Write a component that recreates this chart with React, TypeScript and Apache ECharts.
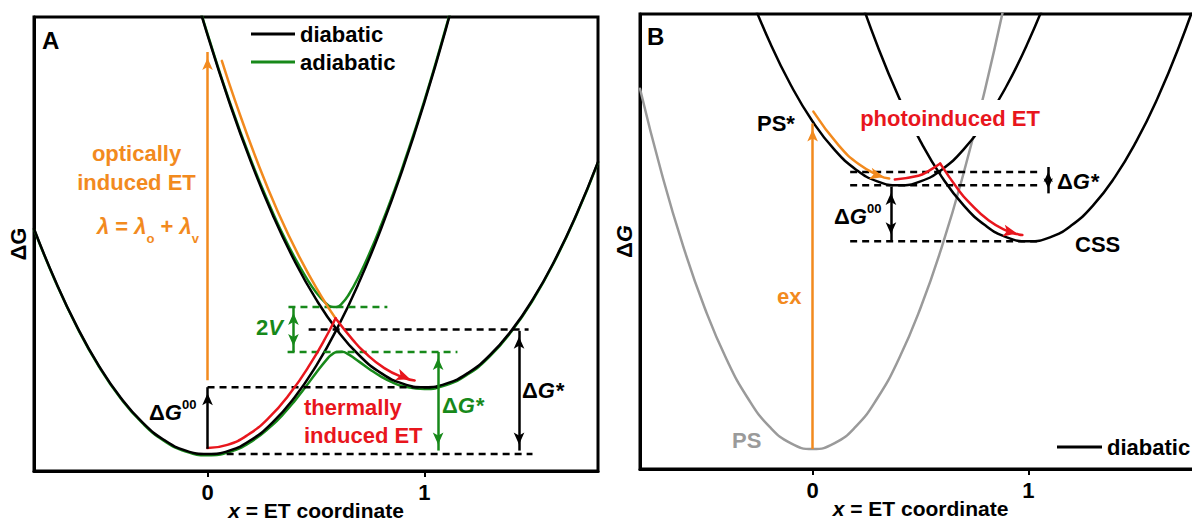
import React, { useEffect, useRef } from "react";
import * as echarts from "echarts";

type Pt = [number, number];

// ---------- shared axis ticks
const xTicks = [0, 1];
const xTickLabels = ["0", "1"];

// ---------- Panel A (energy in units of lambda, reactant minimum = 0)
const reactantA: Pt[] = [
  [-0.8, 0.64], [-0.7, 0.49], [-0.6, 0.36], [-0.5, 0.25], [-0.4, 0.16], [-0.3, 0.09],
  [-0.2, 0.04], [-0.1, 0.01], [0, 0], [0.1, 0.01], [0.2, 0.04], [0.3, 0.09], [0.4, 0.16],
  [0.5, 0.25], [0.6, 0.36], [0.7, 0.49], [0.8, 0.64], [0.9, 0.81], [1.0, 1.0], [1.1, 1.21], [1.2, 1.44],
];
const productA: Pt[] = [
  [-0.1, 1.4], [0, 1.19], [0.1, 1.0], [0.2, 0.83], [0.3, 0.68], [0.4, 0.55], [0.5, 0.44],
  [0.6, 0.35], [0.7, 0.28], [0.8, 0.23], [0.9, 0.2], [1.0, 0.19], [1.1, 0.2], [1.2, 0.23],
  [1.3, 0.28], [1.4, 0.35], [1.5, 0.44], [1.6, 0.55], [1.7, 0.68], [1.8, 0.83],
];
const adiabaticLowerA: Pt[] = [
  [-0.8, 0.6385], [-0.7, 0.4884], [-0.6, 0.3583], [-0.5, 0.2481], [-0.4, 0.1579], [-0.3, 0.0877],
  [-0.2, 0.0374], [-0.1, 0.0071], [0, -0.0034], [0.1, 0.0059], [0.2, 0.0348], [0.3, 0.0831],
  [0.35, 0.1143], [0.4, 0.1498], [0.45, 0.189], [0.5, 0.2304], [0.55, 0.2692], [0.57, 0.2812],
  [0.595, 0.29], [0.62, 0.2907], [0.65, 0.2831], [0.7, 0.262], [0.75, 0.2398], [0.8, 0.2202],
  [0.85, 0.2046], [0.9, 0.1933], [1.0, 0.185], [1.1, 0.196], [1.2, 0.2266], [1.3, 0.2771],
  [1.4, 0.3475], [1.5, 0.4377], [1.6, 0.548], [1.7, 0.6781], [1.8, 0.8283],
];
const adiabaticUpperA: Pt[] = [
  [-0.05, 1.296], [0, 1.1934], [0.1, 1.0041], [0.2, 0.8352], [0.3, 0.6869], [0.35, 0.6207],
  [0.4, 0.5602], [0.45, 0.506], [0.5, 0.4596], [0.55, 0.4258], [0.57, 0.4186], [0.595, 0.418],
  [0.62, 0.4281], [0.65, 0.4519], [0.7, 0.508], [0.75, 0.5752], [0.8, 0.6498], [0.85, 0.7304],
  [0.9, 0.8167], [1.0, 1.005], [1.1, 1.214], [1.15, 1.3262],
];
const opticalPathA: Pt[] = [
  [0.066, 1.117], [0.126, 1.0055], [0.226, 0.836], [0.325, 0.687], [0.425, 0.558], [0.524, 0.449], [0.59, 0.386],
];
const thermalRiseA: Pt[] = [
  [0, 0.017], [0.0915, 0.0262], [0.185, 0.0543], [0.281, 0.1022], [0.378, 0.1704],
  [0.4765, 0.2589], [0.556, 0.344], [0.59, 0.386],
];
const thermalFallA: Pt[] = [
  [0.59, 0.386], [0.6707, 0.3238], [0.719, 0.292], [0.815, 0.2443], [0.9085, 0.2162], [0.955, 0.2093],
];
const guidesBlackA: Pt[][] = [
  [[0.088, 0], [1.498, 0]],
  [[0, 0.19], [1.065, 0.19]],
  [[0.466, 0.354], [1.48, 0.354]],
];
const guidesGreenA: Pt[][] = [
  [[0.373, 0.418], [0.829, 0.418]],
  [[0.369, 0.29], [1.152, 0.29]],
];
const opticalArrowA: Pt[] = [[0, 0.21], [0, 1.142]];
const dG00ArrowA: Pt[] = [[0, 0.015], [0, 0.19]];
const twoVArrowA: Pt[] = [[0.396, 0.29], [0.396, 0.418]];
const dGstarGreenArrowA: Pt[] = [[1.063, 0.29], [1.063, 0.01]];
const dGstarBlackArrowA: Pt[] = [[1.436, 0.35], [1.436, 0.01]];
const thermalHeadA: Pt[] = [[0.85, 0.232], [0.965, 0.206]];

// ---------- Panel B (PS minimum = 0)
const groundPSB: Pt[] = [
  [-0.8, 0.902], [-0.7, 0.691], [-0.6, 0.508], [-0.5, 0.353], [-0.4, 0.226], [-0.3, 0.127],
  [-0.2, 0.056], [-0.1, 0.014], [0, 0], [0.1, 0.014], [0.2, 0.056], [0.3, 0.127], [0.4, 0.226],
  [0.5, 0.353], [0.6, 0.508], [0.7, 0.691], [0.8, 0.902], [0.9, 1.142],
];
const excitedPSB: Pt[] = [
  [-0.3, 1.15], [-0.2, 1.02], [-0.1, 0.91], [0, 0.82], [0.1, 0.75], [0.2, 0.7], [0.3, 0.67],
  [0.4, 0.66], [0.5, 0.67], [0.6, 0.7], [0.7, 0.75], [0.8, 0.82], [0.9, 0.91], [1.0, 1.02], [1.1, 1.15],
];
const cssB: Pt[] = [
  [0.2, 1.16], [0.3, 1.01], [0.4, 0.88], [0.5, 0.77], [0.6, 0.68], [0.7, 0.61], [0.8, 0.56],
  [0.9, 0.53], [1.0, 0.52], [1.1, 0.53], [1.2, 0.56], [1.3, 0.61], [1.4, 0.68], [1.5, 0.77],
  [1.6, 0.88], [1.7, 1.01], [1.8, 1.16],
];
const relaxPathB: Pt[] = [
  [0.0035, 0.8445], [0.1208, 0.76], [0.2167, 0.712], [0.3097, 0.684], [0.355, 0.6772],
];
const etRiseB: Pt[] = [[0.381, 0.675], [0.4903, 0.684], [0.5364, 0.6956], [0.5914, 0.7146]];
const etFallB: Pt[] = [
  [0.5914, 0.7146], [0.6721, 0.6516], [0.7208, 0.62], [0.8167, 0.572], [0.9097, 0.544], [0.955, 0.5372], [0.972, 0.5357],
];
const guidesB: Pt[][] = [
  [[0.174, 0.6936], [1.055, 0.6936]],
  [[0.174, 0.66], [1.055, 0.66]],
  [[0.174, 0.52], [1.055, 0.52]],
];
const exArrowB: Pt[] = [[0, 0], [0, 0.815]];
const dGstarArrowB: Pt[] = [[1.092, 0.706], [1.092, 0.64]];
const dG00ArrowB: Pt[] = [[0.363, 0.656], [0.363, 0.5225]];
const relaxHeadB: Pt[] = [[0.3097, 0.684], [0.362, 0.677]];
const etHeadB: Pt[] = [[0.9097, 0.544], [0.98, 0.5357]];

// ---------- styles
const FONT = "'Liberation Sans', Arial, Helvetica, sans-serif";
const BLACK = "#000000";
const GREEN = "#17891a";
const ORANGE = "#f28a1e";
const RED = "#e8161d";
const GREY = "#9a9a9a";

const base = { fontFamily: FONT, fontWeight: "bold" as const, fontSize: 22 };

function curve(name: string, data: Pt[], color: string, width: number, g: number, smooth: number | boolean = 0.5) {
  return {
    type: "line",
    name,
    data,
    xAxisIndex: g,
    yAxisIndex: g,
    showSymbol: false,
    symbol: "none",
    smooth,
    color,
    lineStyle: { color, width, cap: "round", join: "round" },
    itemStyle: { color },
    silent: true,
    clip: true,
    emphasis: { disabled: true },
  };
}

function guide(data: Pt[], color: string, g: number) {
  return {
    type: "line",
    name: "guide",
    data,
    xAxisIndex: g,
    yAxisIndex: g,
    showSymbol: false,
    symbol: "none",
    smooth: false,
    color,
    lineStyle: { color, width: 2.5, type: [7, 5] },
    silent: true,
    emphasis: { disabled: true },
  };
}

function arrow(seg: Pt[], color: string, both: boolean, size: number[] = [8, 12], showLine = true) {
  const ls = { color, width: showLine ? 2.5 : 0, type: "solid" };
  return [
    { coord: seg[0], symbol: both ? "arrow" : "none", symbolSize: size, symbolOffset: [0, size[1] / 2], lineStyle: ls },
    { coord: seg[1], symbol: "arrow", symbolSize: size, symbolOffset: [0, size[1] / 2], lineStyle: ls },
  ];
}

function arrowSeries(items: any[], g: number) {
  return {
    type: "line",
    name: "arrows",
    data: [],
    xAxisIndex: g,
    yAxisIndex: g,
    silent: true,
    markLine: {
      silent: true,
      animation: false,
      symbol: ["none", "arrow"],
      symbolSize: [8, 12],
      symbolOffset: [[0, 6], [0, 6]],
      label: { show: false },
      emphasis: { disabled: true },
      data: items,
    },
  };
}

function richDG(fill: string) {
  return {
    d: { ...base, fill, fontStyle: "normal", lineHeight: 28 },
    g: { ...base, fill, fontStyle: "italic", lineHeight: 28 },
    n: { ...base, fill, fontStyle: "normal", lineHeight: 28 },
    s: { ...base, fill, fontSize: 13, verticalAlign: "top", lineHeight: 14 },
  };
}

function label(x: number, y: number, text: string, fill: string, align = "left", extra: any = {}) {
  return {
    type: "text",
    x,
    y,
    z: 100,
    silent: true,
    style: { ...base, text, fill, align, verticalAlign: "middle", ...extra },
  };
}

function xAxisOf(g: number) {
  return {
    gridIndex: g,
    type: "value",
    min: -0.8,
    max: 1.8,
    axisLine: { show: true, onZero: false, lineStyle: { color: BLACK, width: 3 } },
    axisTick: { show: true, customValues: xTicks, length: 6, inside: false, lineStyle: { color: BLACK, width: 2 } },
    axisLabel: {
      show: true,
      customValues: xTicks,
      margin: 10,
      color: BLACK,
      fontFamily: FONT,
      fontWeight: "bold",
      fontSize: 22,
      formatter: (v: number) => {
        const i = xTicks.indexOf(v);
        return i >= 0 ? xTickLabels[i] : "";
      },
    },
    splitLine: { show: false },
    name: "{i|x} = ET coordinate",
    nameLocation: "middle",
    nameGap: 29,
    nameMoveOverlap: false,
    nameTextStyle: {
      ...base,
      fontSize: 21,
      color: BLACK,
      rich: {
        i: { ...base, fontSize: 21, color: BLACK, fontStyle: "italic" },
      },
    },
  };
}

function yAxisOf(g: number, min: number, max: number, name: string, italicG: boolean) {
  return {
    gridIndex: g,
    type: "value",
    min,
    max,
    axisLine: { show: true, onZero: false, lineStyle: { color: BLACK, width: 3 } },
    axisTick: { show: false },
    axisLabel: { show: false },
    splitLine: { show: false },
    name,
    nameLocation: "middle",
    nameGap: 5,
    nameRotate: 90,
    nameMoveOverlap: false,
    nameTextStyle: {
      ...base,
      color: BLACK,
      rich: {
        d: { ...base, color: BLACK },
        g: { ...base, color: BLACK, fontStyle: italicG ? "italic" : "normal" },
      },
    },
  };
}

export default function App() {
  const ref = useRef<HTMLDivElement>(null);

  useEffect(() => {
    document.body.style.margin = "0";
    if (!ref.current) return;
    const chart = echarts.init(ref.current, undefined, { renderer: "svg" });

    const series: any[] = [
      // Panel A
      curve("adiabatic", adiabaticLowerA, GREEN, 2.5, 0),
      curve("adiabatic", adiabaticUpperA, GREEN, 2.5, 0),
      curve("diabatic", reactantA, BLACK, 2.5, 0),
      curve("diabatic", productA, BLACK, 2.5, 0),
      ...guidesBlackA.map((d) => guide(d, BLACK, 0)),
      ...guidesGreenA.map((d) => guide(d, GREEN, 0)),
      curve("optical", opticalPathA, ORANGE, 2.5, 0),
      curve("thermal", thermalRiseA, RED, 2.5, 0),
      curve("thermal", thermalFallA, RED, 2.5, 0),
      arrowSeries(
        [
          arrow(opticalArrowA, ORANGE, false),
          arrow(dG00ArrowA, BLACK, false),
          arrow(twoVArrowA, GREEN, true),
          arrow(dGstarGreenArrowA, GREEN, true),
          arrow(dGstarBlackArrowA, BLACK, true),
          arrow(thermalHeadA, RED, false, [9, 14], false),
        ],
        0
      ),
      // Panel B
      curve("PS", groundPSB, GREY, 2.5, 1),
      curve("diabatic", excitedPSB, BLACK, 2.5, 1),
      curve("diabatic", cssB, BLACK, 2.5, 1),
      ...guidesB.map((d) => guide(d, BLACK, 1)),
      curve("relax", relaxPathB, ORANGE, 2.5, 1),
      curve("photoET", etRiseB, RED, 2.5, 1),
      curve("photoET", etFallB, RED, 2.5, 1),
      arrowSeries(
        [
          arrow(exArrowB, ORANGE, false),
          arrow(dGstarArrowB, BLACK, true, [7, 10]),
          arrow(dG00ArrowB, BLACK, true),
          arrow(relaxHeadB, ORANGE, false, [9, 14], false),
          arrow(etHeadB, RED, false, [9, 14], false),
        ],
        1
      ),
    ];

    const graphics: any[] = [
      // Panel A
      label(42, 40, "A", BLACK, "left", { fontSize: 24 }),
      label(136.5, 153, "optically", ORANGE, "center"),
      label(136.5, 182, "induced ET", ORANGE, "center"),
      label(199, 226, "{l|λ}{n| = }{l|λ}{b|o}{n| + }{l|λ}{b|v}", ORANGE, "right", {
        rich: {
          l: { ...base, fill: ORANGE, fontStyle: "italic", lineHeight: 38 },
          n: { ...base, fill: ORANGE, lineHeight: 38 },
          b: { ...base, fill: ORANGE, fontSize: 13, verticalAlign: "bottom", lineHeight: 14 },
        },
      }),
      label(283, 327, "{n|2}{g|V}", GREEN, "right", { rich: richDG(GREEN) }),
      label(149, 412, "{d|Δ}{g|G}{s|00}", BLACK, "left", { rich: richDG(BLACK) }),
      label(304, 407, "thermally", RED, "left"),
      label(304, 435, "induced ET", RED, "left"),
      label(442, 405, "{d|Δ}{g|G*}", GREEN, "left", { rich: richDG(GREEN) }),
      label(522, 390, "{d|Δ}{g|G*}", BLACK, "left", { rich: richDG(BLACK) }),
      // Panel B
      label(647, 36, "B", BLACK, "left", { fontSize: 24 }),
      label(757, 123, "PS*", BLACK, "left"),
      label(950, 118, "photoinduced ET", RED, "center", { backgroundColor: "#ffffff", padding: [7, 4] }),
      label(1057, 181, "{d|Δ}{g|G*}", BLACK, "left", { rich: richDG(BLACK) }),
      label(834, 216, "{d|Δ}{g|G}{s|00}", BLACK, "left", { rich: richDG(BLACK) }),
      label(1075, 244, "CSS", BLACK, "left"),
      label(777, 296, "ex", ORANGE, "left"),
      label(732, 440, "PS", GREY, "left"),
    ];

    chart.setOption({
      animation: false,
      backgroundColor: "#ffffff",
      textStyle: { fontFamily: FONT },
      grid: [
        { left: 34, top: 17, width: 564, height: 454, show: true, borderColor: BLACK, borderWidth: 3, backgroundColor: "transparent", containLabel: false, outerBoundsMode: "none" },
        { left: 640, top: 14, width: 561, height: 455, show: true, borderColor: BLACK, borderWidth: 3, backgroundColor: "transparent", containLabel: false, outerBoundsMode: "none" },
      ],
      xAxis: [xAxisOf(0), xAxisOf(1)],
      yAxis: [
        yAxisOf(0, -0.048, 1.2415, "{d|Δ}{g|G}", false),
        yAxisOf(1, -0.05, 1.089, "{d|Δ}{g|G}", true),
      ],
      legend: [
        {
          left: 251,
          top: 23,
          orient: "vertical",
          data: ["diabatic", "adiabatic"],
          icon: "rect",
          itemWidth: 44,
          itemHeight: 3,
          itemGap: 6,
          padding: 0,
          selectedMode: false,
          textStyle: { ...base, color: BLACK },
        },
        {
          left: 1057,
          top: 436,
          orient: "horizontal",
          data: ["diabatic"],
          icon: "rect",
          itemWidth: 45,
          itemHeight: 3,
          padding: 0,
          selectedMode: false,
          textStyle: { ...base, color: BLACK },
        },
      ],
      series,
      graphic: { elements: graphics },
    });

    return () => {
      chart.dispose();
    };
  }, []);

  return <div ref={ref} style={{ width: 1192, height: 524 }} />;
}
